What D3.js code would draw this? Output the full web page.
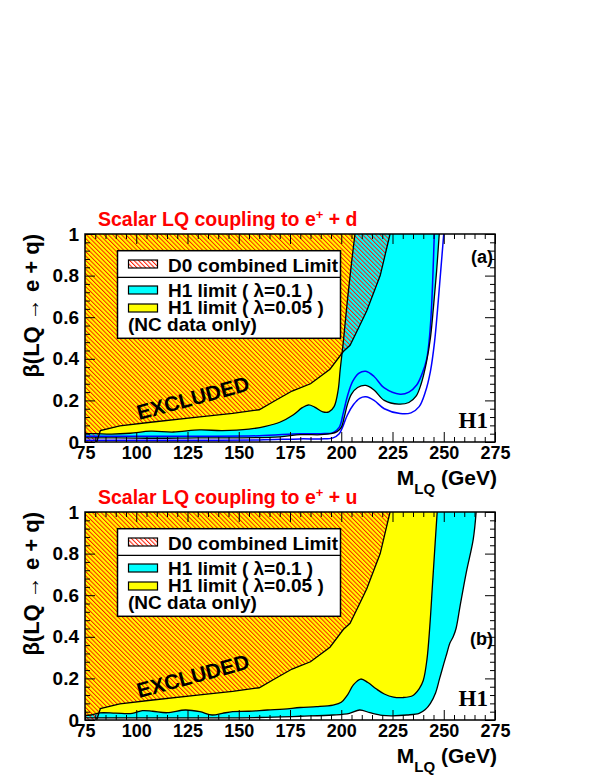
<!DOCTYPE html>
<html><head><meta charset="utf-8">
<script src="https://cdn.jsdelivr.net/npm/d3@7"></script>
<style>body{margin:0;background:#fff}</style>
</head><body>
<svg id="c" width="599" height="776"></svg>
<script>
// ---------------- data ----------------
const xTickValues = [75,100,125,150,175,200,225,250,275];
const yTickValues = [0,0.2,0.4,0.6,0.8,1];
const yTickLabels = ["0","0.2","0.4","0.6","0.8","1"];

// D0 combined limit (shared by both panels)
const d0Mass = [80.7, 82.5, 92, 107, 131, 147, 160, 167, 176, 185, 194.5, 201, 204.3, 208, 212.4, 219, 223.8];
const d0Beta = [0, 0.055, 0.078, 0.095, 0.121, 0.138, 0.155, 0.195, 0.245, 0.28, 0.35, 0.435, 0.465, 0.54, 0.63, 0.8, 1.0];

// panel (a): e+ d
const yellowMassA = [75, 80, 88, 97, 107, 118, 131, 142, 155, 163, 170, 176.5, 181, 184, 187, 191, 194, 196.5, 198.5, 199.5, 201, 203, 205, 206.7];
const yellowBetaA = [0.04, 0.04, 0.038, 0.042, 0.052, 0.048, 0.058, 0.055, 0.062, 0.075, 0.095, 0.13, 0.165, 0.178, 0.168, 0.145, 0.145, 0.17, 0.25, 0.35, 0.48, 0.68, 0.86, 1.0];
const cyanMassA = [75, 90, 110, 130, 150, 170, 180, 190, 195, 198, 200, 201.5, 203, 205, 208, 212, 216, 221, 228, 233, 236.5, 239, 241.5, 243.5, 245, 246.5, 247.8];
const cyanBetaA = [0.02, 0.02, 0.018, 0.02, 0.02, 0.025, 0.035, 0.035, 0.04, 0.05, 0.07, 0.12, 0.18, 0.23, 0.262, 0.272, 0.25, 0.2, 0.182, 0.19, 0.22, 0.28, 0.38, 0.5, 0.65, 0.82, 1.0];
const blueUpMassA = [75, 100, 130, 160, 180, 190, 196, 199, 201, 203, 205.5, 208.5, 212, 216, 221, 228.7, 233, 236.8, 239.5, 241.7, 243, 244, 245.4];
const blueUpBetaA = [0.028, 0.028, 0.028, 0.03, 0.04, 0.04, 0.045, 0.07, 0.14, 0.22, 0.29, 0.33, 0.34, 0.315, 0.26, 0.23, 0.24, 0.274, 0.33, 0.4, 0.5, 0.64, 1.0];
const blueLoMassA = [75, 100, 130, 160, 180, 190, 196, 199, 201, 203, 206, 209, 212, 216, 221, 228.7, 234, 238, 241, 243.5, 245.5, 247, 248.5, 250];
const blueLoBetaA = [0.008, 0.008, 0.008, 0.01, 0.015, 0.015, 0.02, 0.04, 0.08, 0.13, 0.18, 0.21, 0.217, 0.2, 0.16, 0.137, 0.14, 0.17, 0.24, 0.34, 0.48, 0.64, 0.82, 1.0];

// panel (b): e+ u
const yellowMassB = [75, 78, 82, 90, 98, 103, 108, 115, 124, 131, 137, 142, 147, 155, 164, 172, 180, 188, 196, 200, 203, 206, 209.5, 213, 217, 221, 225.5, 230, 235, 238, 240, 241.8, 243.2, 244.5, 245.8, 246.8];
const yellowBetaB = [0.022, 0.024, 0.034, 0.033, 0.032, 0.045, 0.042, 0.035, 0.048, 0.04, 0.024, 0.032, 0.04, 0.042, 0.048, 0.052, 0.06, 0.064, 0.072, 0.085, 0.12, 0.17, 0.197, 0.18, 0.15, 0.125, 0.11, 0.108, 0.118, 0.15, 0.19, 0.29, 0.45, 0.65, 0.85, 1.0];
const cyanMassB = [75, 100, 130, 160, 180, 196, 204, 209, 214, 220, 225, 232, 238, 241, 243.5, 246, 248, 250, 251.5, 253, 254.6, 256, 258, 261, 264.4, 265.8];
const cyanBetaB = [0.01, 0.01, 0.01, 0.012, 0.018, 0.024, 0.032, 0.048, 0.035, 0.022, 0.02, 0.024, 0.032, 0.05, 0.08, 0.13, 0.2, 0.27, 0.32, 0.37, 0.4, 0.44, 0.55, 0.71, 0.87, 1.0];

const panelTitleText = ["Scalar LQ coupling to e", "Scalar LQ coupling to e"];
const panelQuark = ["d", "u"];
const panelTags = ["(a)", "(b)"];
const panelTagBeta = [0.86, 0.36];
const legendLabels = ["D0 combined Limit", "H1 limit ( λ=0.1 )", "H1 limit ( λ=0.05 )", "(NC data only)"];
const excludedText = "EXCLUDED";
const yAxisTitle = "β(LQ → e + q)";

// ---------------- drawing ----------------
const svg = d3.select("#c");
const defs = svg.append("defs");
function hatch(id, bg) {
  const p = defs.append("pattern").attr("id", id).attr("patternUnits", "userSpaceOnUse")
    .attr("width", 3.1).attr("height", 10).attr("patternTransform", "rotate(-45)");
  if (bg) p.append("rect").attr("width", 3.1).attr("height", 10).attr("fill", bg);
  p.append("line").attr("x1", 0.5).attr("x2", 0.5).attr("y1", 0).attr("y2", 10)
    .attr("stroke", "#ff1a00").attr("stroke-width", 1);
}
hatch("hatch", null);
hatch("hatchW", "#fff");

const XL = 85, XR = 495;
const FONT = "Liberation Sans, Arial, sans-serif";
const panels = [
  {top: 234, bottom: 442, yellow: [yellowMassA, yellowBetaA], cyan: [cyanMassA, cyanBetaA],
   blues: [[blueUpMassA, blueUpBetaA], [blueLoMassA, blueLoBetaA]]},
  {top: 512, bottom: 720, yellow: [yellowMassB, yellowBetaB], cyan: [cyanMassB, cyanBetaB], blues: []}
];

function pts(m, b) { return m.map((v, i) => ({m: v, b: b[i]})); }

panels.forEach((P, k) => {
  const x = d3.scaleLinear().domain([75, 275]).range([XL, XR]);
  const y = d3.scaleLinear().domain([0, 1]).range([P.bottom, P.top]);
  const g = svg.append("g");
  const clipId = "clip" + k;
  defs.append("clipPath").attr("id", clipId).append("rect")
    .attr("x", XL).attr("y", P.top).attr("width", XR - XL).attr("height", P.bottom - P.top);
  const pg = g.append("g").attr("clip-path", `url(#${clipId})`);

  const smooth = d3.line().x(d => x(d.m)).y(d => y(d.b)).curve(d3.curveCatmullRom.alpha(0.5));
  const straight = d3.line().x(d => x(d.m)).y(d => y(d.b));
  const regionAbove = (lineStr) => lineStr + `L${x(75)},${y(1)}Z`;

  const cyanLine = smooth(pts(...P.cyan));
  const yellowLine = smooth(pts(...P.yellow));
  const d0Line = straight(pts(d0Mass, d0Beta));

  pg.append("path").attr("d", regionAbove(cyanLine)).attr("fill", "#00ffff");
  pg.append("path").attr("d", regionAbove(yellowLine)).attr("fill", "#ffff00");
  const d0Region = `M${x(75)},${y(0)}L` + d0Line.slice(1) + `L${x(75)},${y(1)}Z`;
  pg.append("path").attr("d", d0Region).attr("fill", "url(#hatch)");

  P.blues.forEach(bl => {
    pg.append("path").attr("d", smooth(pts(...bl))).attr("fill", "none")
      .attr("stroke", "#0000ff").attr("stroke-width", 1.5);
  });
  pg.append("path").attr("d", cyanLine).attr("fill", "none").attr("stroke", "#000").attr("stroke-width", 1.3);
  pg.append("path").attr("d", yellowLine).attr("fill", "none").attr("stroke", "#000").attr("stroke-width", 1.3);
  pg.append("path").attr("d", d0Line).attr("fill", "none").attr("stroke", "#000").attr("stroke-width", 1.3);

  // axes
  const minorY = d3.range(0, 1.0001, 0.04).filter(v => Math.abs(v * 5 - Math.round(v * 5)) > 1e-6);
  const minorX = d3.range(75, 275.001, 5).filter(v => v % 25 !== 0);
  const axStyle = sel => { sel.select(".domain").remove(); sel.selectAll("line").attr("stroke", "#000"); };

  g.append("g").attr("transform", `translate(${XL},0)`)
    .call(d3.axisLeft(y).tickValues(yTickValues).tickFormat((d, i) => yTickLabels[i]).tickSize(-10).tickPadding(6).tickSizeOuter(0))
    .call(axStyle)
    .selectAll("text").attr("font-family", FONT).attr("font-weight", "bold")
    .attr("font-size", 19).attr("fill", "#000");
  g.append("g").attr("transform", `translate(${XL},0)`)
    .call(d3.axisLeft(y).tickValues(minorY).tickFormat("").tickSize(-5).tickSizeOuter(0)).call(axStyle);
  g.append("g").attr("transform", `translate(${XR},0)`)
    .call(d3.axisRight(y).tickValues(yTickValues).tickFormat("").tickSize(-10).tickSizeOuter(0)).call(axStyle);
  g.append("g").attr("transform", `translate(${XR},0)`)
    .call(d3.axisRight(y).tickValues(minorY).tickFormat("").tickSize(-5).tickSizeOuter(0)).call(axStyle);

  g.append("g").attr("transform", `translate(0,${P.bottom})`)
    .call(d3.axisBottom(x).tickValues(xTickValues).tickFormat(d3.format("d")).tickSize(-10).tickPadding(4).tickSizeOuter(0))
    .call(axStyle)
    .selectAll("text").attr("font-family", FONT).attr("font-weight", "bold")
    .attr("font-size", 18).attr("fill", "#000");
  g.append("g").attr("transform", `translate(0,${P.bottom})`)
    .call(d3.axisBottom(x).tickValues(minorX).tickFormat("").tickSize(-5).tickSizeOuter(0)).call(axStyle);
  g.append("g").attr("transform", `translate(0,${P.top})`)
    .call(d3.axisTop(x).tickValues(xTickValues).tickFormat("").tickSize(-10).tickSizeOuter(0)).call(axStyle);
  g.append("g").attr("transform", `translate(0,${P.top})`)
    .call(d3.axisTop(x).tickValues(minorX).tickFormat("").tickSize(-5).tickSizeOuter(0)).call(axStyle);

  // frame
  g.append("rect").attr("x", XL).attr("y", P.top).attr("width", XR - XL).attr("height", P.bottom - P.top)
    .attr("fill", "none").attr("stroke", "#000").attr("stroke-width", 1.5);

  // title
  const t = g.append("text").attr("x", 98).attr("y", P.top - 8).attr("fill", "#ff0000")
    .attr("font-family", FONT).attr("font-weight", "bold").attr("font-size", 19.5);
  t.append("tspan").text(panelTitleText[k]);
  t.append("tspan").attr("dy", -7).attr("font-size", 13).text("+");
  t.append("tspan").attr("dy", 7).text(" + " + panelQuark[k]);

  // y axis title
  g.append("text").attr("transform", `translate(38.5,${P.top}) rotate(-90)`).attr("text-anchor", "end")
    .attr("font-family", FONT).attr("font-weight", "bold").attr("font-size", 22).text(yAxisTitle);

  // x axis title
  const xt = g.append("text").attr("x", 497).attr("y", P.bottom + 43).attr("text-anchor", "end")
    .attr("font-family", FONT).attr("font-weight", "bold").attr("font-size", 21);
  xt.append("tspan").text("M");
  xt.append("tspan").attr("dy", 9).attr("font-size", 15).text("LQ");
  xt.append("tspan").attr("dy", -9).text(" (GeV)");

  // tag
  g.append("text").attr("x", 493).attr("y", y(panelTagBeta[k])).attr("text-anchor", "end")
    .attr("font-family", FONT).attr("font-weight", "bold").attr("font-size", 18).text(panelTags[k]);
  // H1 logo
  g.append("text").attr("x", 488).attr("y", P.bottom - 14).attr("text-anchor", "end")
    .attr("font-family", "Liberation Serif, Times New Roman, serif").attr("font-weight", "bold")
    .attr("font-size", 23).text("H1");
  // EXCLUDED
  g.append("text").attr("transform", `translate(193,${P.bottom - 44}) rotate(-15)`).attr("text-anchor", "middle")
    .attr("dy", "0.35em").attr("font-family", FONT).attr("font-weight", "bold").attr("font-size", 21)
    .text(excludedText);

  // legend
  const L = g.append("g");
  const lt = P.top;
  L.append("rect").attr("x", 117.5).attr("y", lt + 16.7).attr("width", 223).attr("height", 87.6)
    .attr("fill", "#fff").attr("stroke", "#000").attr("stroke-width", 1.5);
  L.append("line").attr("x1", 117.5).attr("x2", 340.5).attr("y1", lt + 43.3).attr("y2", lt + 43.3)
    .attr("stroke", "#000").attr("stroke-width", 1.3);
  const sw = [{y: 26, f: "url(#hatchW)"}, {y: 52, f: "#00ffff"}, {y: 70, f: "#ffff00"}];
  sw.forEach(s => L.append("rect").attr("x", 128.5).attr("y", lt + s.y).attr("width", 29).attr("height", 8)
    .attr("fill", s.f).attr("stroke", "#000").attr("stroke-width", 1.2));
  const base = [38, 63, 80, 96.5];
  legendLabels.forEach((s, i) => L.append("text").attr("x", i === 3 ? 128 : 168).attr("y", lt + base[i])
    .attr("font-family", FONT).attr("font-size", 19).attr("font-weight", "bold").text(s));
});
</script>
</body></html>
